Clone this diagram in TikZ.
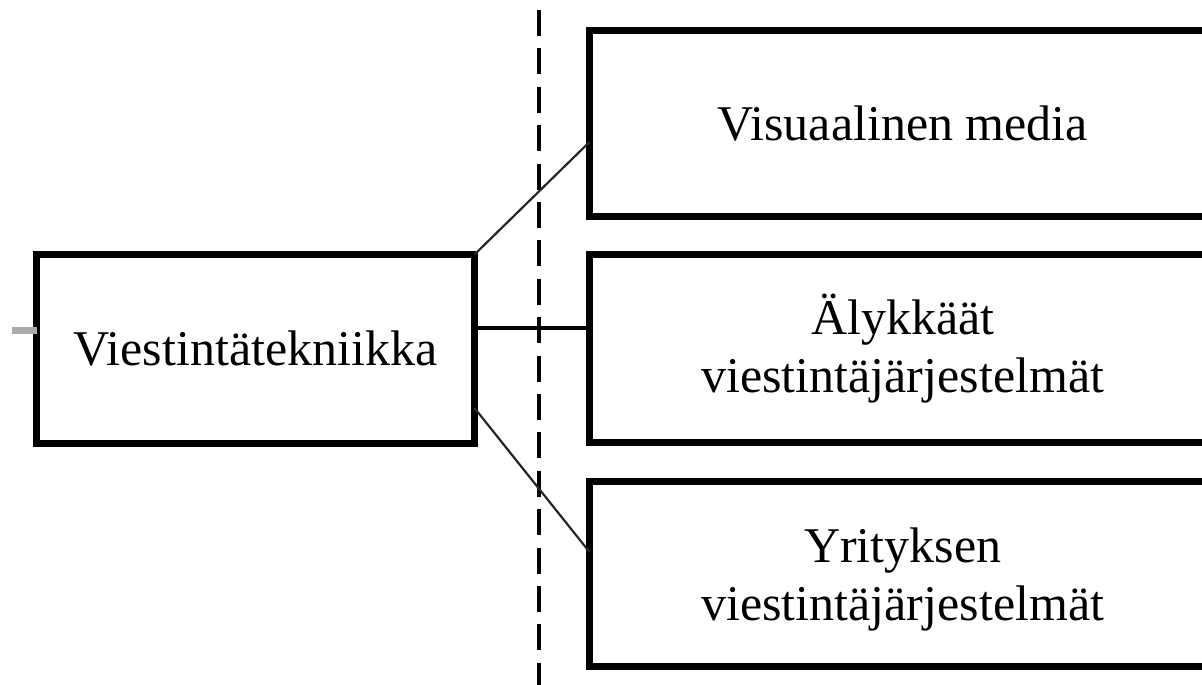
\documentclass[tikz,border=0pt]{standalone}
\usepackage{fontspec}
\setmainfont{Liberation Serif}
\usetikzlibrary{calc}
\tikzset{
  box/.style={draw=black, line width=7pt, rectangle, inner sep=0pt, outer sep=0pt,
    align=center, font=\fontsize{50}{57.5}\selectfont},
  conn/.style={draw=black!85, line width=2.2pt},
  divider/.style={draw=black, line width=4.5pt, dash pattern=on 26pt off 12.4pt},
  stubline/.style={draw=black!33, line width=7pt}
}
\begin{document}
\begin{tikzpicture}[x=1pt, y=-1pt]
  \useasboundingbox (0,0) rectangle (1202,685);
  \clip (0,0) rectangle (1202,685);

  % vertical dashed divider
  \coordinate (dtop) at (539,10);
  \coordinate (dbot) at (539,690);
  \draw[divider] (dtop) -- (dbot);

  % main box and the three branches
  \node[box, minimum width=438pt, minimum height=189pt] (lb) at (255.5,349) {Viestintätekniikka};
  \node[box, minimum width=626.5pt, minimum height=186pt] (b1) at (902.75,123.5) {Visuaalinen media};
  \node[box, minimum width=626.5pt, minimum height=188pt] (b2) at (902.75,348.5) {Älykkäät\\viestintäjärjestelmät};
  \node[box, minimum width=626.5pt, minimum height=185pt, text depth=0pt] (b3) at (902.75,574) {Yrityksen\\viestintäjärjestelmät};

  % incoming stub on the left
  \coordinate (stub) at (12,330.5);
  \draw[stubline] (stub) -- (stub -| lb.west);

  % connectors
  \coordinate (b1in) at ($(b1.west)+(0,18.5)$);
  \coordinate (lbmid) at ($(lb.east)+(0,-21)$);
  \coordinate (lblow) at ($(lb.east)+(0,59)$);
  \coordinate (b3in) at ($(b3.west)+(0,-22)$);
  \draw[conn] (lb.north east) -- (b1in);
  \draw[conn, draw=black, line width=3.5pt] (lbmid) -- (lbmid -| b2.west);
  \draw[conn] (lblow) -- (b3in);
\end{tikzpicture}
\end{document}
